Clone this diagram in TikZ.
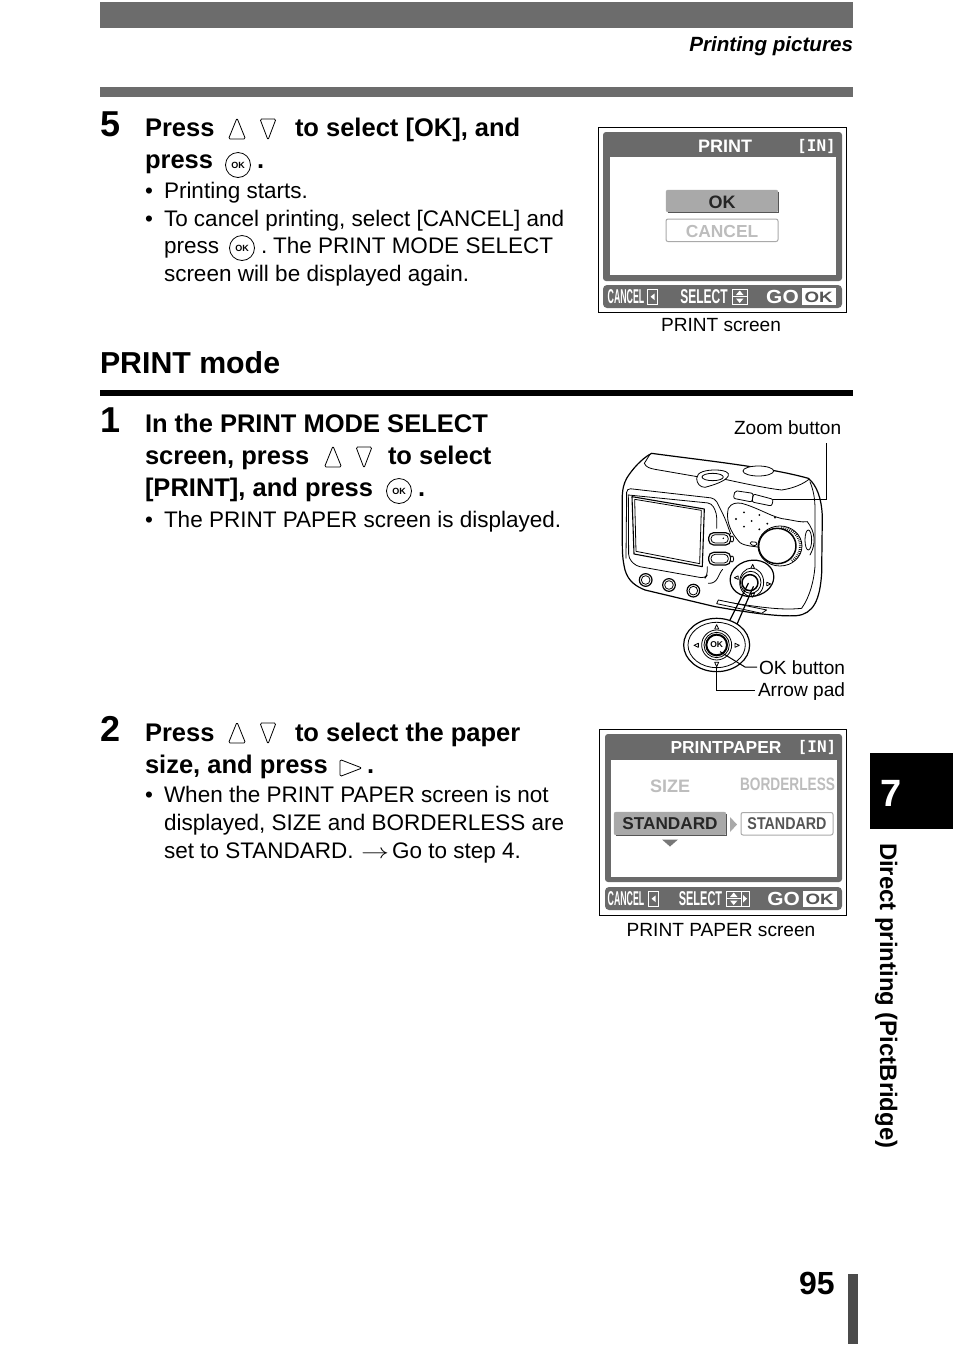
\documentclass[tikz,border=0pt]{standalone}
\usepackage{fontspec}
\usepackage{graphicx}
\setmainfont{Liberation Sans}
\newfontfamily\slabfont{DejaVu Sans Mono}
\usetikzlibrary{shapes.geometric,calc}
\definecolor{barGray}{HTML}{6C6C6C}
\definecolor{scrGray}{HTML}{6A6A6A}
\definecolor{btnGray}{HTML}{A9A9A9}
\definecolor{txtGray}{HTML}{BDBDBD}
\definecolor{midGray}{HTML}{555555}
\newcommand\nar[2]{\scalebox{#1}[1]{#2}}
\newcommand\fs[1]{\fontsize{#1}{#1}\selectfont}
\tikzset{
 x=1pt,y=-1pt,
 txt/.style={anchor=base west,inner sep=0pt,outer sep=0pt,text=black},
 bodytxt/.style={txt,font=\fs{22.5}},
 head/.style={txt,font=\fs{25.5}\bfseries},
 num/.style={txt,font=\fs{36}\bfseries},
 captxt/.style={txt,font=\fs{19.1}},
 capc/.style={captxt,anchor=base},
 scr/.style={txt,anchor=base,font=\fs{18}\bfseries,text=white},
 btnline/.style={draw=black,line width=0.8pt,line join=round,fill=white},
 cam/.style={draw=black,line width=0.8pt,line join=round,line cap=round},
 camheavy/.style={cam,line width=1.2pt},
 leader/.style={draw=black,line width=1pt},
 upbtn/.pic={\draw[btnline,rounded corners=1.5pt] (0,-11)--(8.5,10)--(-8.5,10)--cycle;},
 downbtn/.pic={\draw[btnline,rounded corners=1.5pt] (0,11)--(8,-10)--(-8,-10)--cycle;},
 rightbtn/.pic={\draw[btnline,rounded corners=1.5pt] (11,0)--(-11,8.5)--(-11,-8.5)--cycle;},
 okbtn/.pic={\draw[btnline] (0,0) circle[radius=12.5];
   \node[inner sep=0pt,font=\fs{9}\bfseries] {OK};},
}
\begin{document}
\begin{tikzpicture}
\useasboundingbox (0,0) rectangle (954,1345);
\fill[white] (0,0) rectangle (954,1345);
% page furniture
\fill[barGray] (100,2) rectangle (853,28);
\fill[barGray] (100,87) rectangle (853,97);
\fill[black] (100,390) rectangle (853,396);
\fill[black] (870,753) rectangle (953,829);
\fill[barGray!70!black] (848,1274) rectangle (858,1344);
\node[txt,anchor=base east,font=\fs{20.6}\bfseries\itshape] (running) at (853,51) {Printing pictures};
\node[txt,font=\fs{38}\bfseries,text=white] (chapter) at (880,806) {7};
\node[txt,rotate=-90,font=\fs{23.9}\bfseries] (side) at (880,843) {Direct printing (PictBridge)};
\node[txt,font=\fs{32}\bfseries] (page) at (799,1294) {95};
% step 5
\node[num] (s5) at (100,136) {5};
\node[head] (s5a) at (145,136) {Press};
\pic at (237,129) {upbtn};
\pic at (268,129) {downbtn};
\node[head] (s5b) at (295,136) {to select [OK], and};
\node[head] (s5c) at (145,168) {press};
\pic at (238,165) {okbtn};
\node[head] (s5d) at (257,168) {.};
\node[bodytxt] (b1) at (145,198) {•};
\node[bodytxt] (b1t) at (164,198) {Printing starts.};
\node[bodytxt] (b2) at (145,226) {•};
\node[bodytxt] (b2t) at (164,226) {To cancel printing, select [CANCEL] and};
\node[bodytxt] (b2u) at (164,253) {press};
\pic at (242,248) {okbtn};
\node[bodytxt] (b2v) at (261,253) {.};
\node[bodytxt] (b2x) at (273,253) {The PRINT MODE SELECT};
\node[bodytxt] (b2w) at (164,281) {screen will be displayed again.};
% heading
\node[txt,font=\fs{30.3}\bfseries] (pm) at (100,373) {PRINT mode};
% step 1
\node[num] (s1) at (100,432) {1};
\node[head] (s1a) at (145,432) {In the PRINT MODE SELECT};
\node[head] (s1b) at (145,464) {screen, press};
\pic at (333,457) {upbtn};
\pic at (364,457) {downbtn};
\node[head] (s1c) at (388,464) {to select};
\node[head] (s1d) at (145,496) {[PRINT], and press};
\pic at (399,491) {okbtn};
\node[head] (s1e) at (418,496) {.};
\node[bodytxt] (c1) at (145,527) {•};
\node[bodytxt] (c1t) at (164,527) {The PRINT PAPER screen is displayed.};
% step 2
\node[num] (s2) at (100,741) {2};
\node[head] (s2a) at (145,741) {Press};
\pic at (237,733) {upbtn};
\pic at (268,733) {downbtn};
\node[head] (s2b) at (295,741) {to select the paper};
\node[head] (s2c) at (145,773) {size, and press};
\pic at (351,768) {rightbtn};
\node[head] (s2d) at (367,773) {.};
\node[bodytxt] (d1) at (145,802) {•};
\node[bodytxt] (d1t) at (164,802) {When the PRINT PAPER screen is not};
\node[bodytxt] (d1u) at (164,830) {displayed, SIZE and BORDERLESS are};
\node[bodytxt] (d1v) at (164,858) {set to STANDARD.};
\node[bodytxt] (d1a) at (361,858) {\nar{1.35}{$\rightarrow$}};
\node[bodytxt] (d1w) at (392,858) {Go to step 4.};
% PRINT screen
\draw[black,line width=0.8pt] (598.5,127.5) rectangle (846,312.5);
\fill[scrGray,rounded corners=3pt] (603,132) rectangle (842,281);
\fill[white] (610,157) rectangle (836,275);
\fill[scrGray,rounded corners=4pt] (603,285) rectangle (842,308);
\node[scr] (p1) at (725,152) {PRINT};
\node[scr,font=\fs{16}\bfseries\slabfont] (p2) at (816.5,151) {[IN]};
\draw[fill=btnGray,draw=btnGray,rounded corners=2pt] (666,190) rectangle (778,212);
\draw[midGray,line width=0.7pt] (778,192) -- (778,212) -- (668,212);
\node[scr,text=black!85] (p3) at (722,208) {OK};
\draw[draw=btnGray,line width=1pt,fill=white,rounded corners=2pt] (666,219) rectangle (778,241.5);
\node[scr,text=txtGray,font=\fs{17.4}\bfseries] (p4) at (722,237) {CANCEL};
\node[scr,font=\fs{20}\bfseries] (p5) at (626,303.5) {\nar{0.44}{CANCEL}};
\draw[white,line width=0.8pt] (647.5,289) rectangle (657.5,304.5);
\fill[white] (654.5,293.5) -- (654.5,300) -- (650.5,296.7) -- cycle;
\node[scr,font=\fs{20}\bfseries] (p6) at (704,303.5) {\nar{0.6}{SELECT}};
\draw[white,line width=0.8pt] (732.5,289) rectangle (747,304.5);
\draw[white,line width=0.8pt] (732.5,296.7) -- (747,296.7);
\fill[white] (739.7,290.5) -- (736,295) -- (743.5,295) -- cycle;
\fill[white] (739.7,303) -- (736,298.5) -- (743.5,298.5) -- cycle;
\node[scr,font=\fs{19}\bfseries] (p7) at (782.5,303.5) {\nar{1.1}{GO}};
\draw[white,fill=white] (802.5,288.5) rectangle (835,304);
\node[scr,text=midGray,font=\fs{15}\bfseries] (p8) at (818.7,302) {\nar{1.25}{OK}};
\node[capc] (p9) at (721,331) {PRINT screen};
% camera
\begin{scope}[shift={(600,410)},x=0.3333pt,y=-0.3333pt]
% body
\draw[camheavy,fill=white] (155,130) .. controls (300,150) and (500,170) .. (625,205)
  .. controls (650,225) and (665,265) .. (667,320) -- (665,490)
  .. controls (660,570) and (640,612) .. (590,617)
  .. controls (540,620) and (470,612) .. (345,590)
  -- (135,540) .. controls (110,530) and (85,515) .. (75,480)
  .. controls (68,450) and (67,430) .. (67,400) -- (67,255)
  .. controls (68,235) and (72,220) .. (80,205) .. controls (95,180) and (125,145) .. (155,130) -- cycle;
\draw[camheavy] (67,350) -- (67,405);
\draw[cam] (150,133) -- (133,160) .. controls (138,172) and (150,175) .. (165,178) -- (292,200);
\draw[cam] (375,208) .. controls (430,220) and (500,235) .. (545,240) .. controls (580,235) and (610,222) .. (628,207);
\draw[cam] (630,215) .. controls (640,240) and (645,265) .. (645,295) -- (645,470) .. controls (642,510) and (630,560) .. (605,595) .. controls (540,602) and (470,590) .. (358,573);
% tab
\draw[cam,fill=white] (355,570) -- (350,581) -- (485,610) -- (500,600) -- cycle;
% eyepiece and top dial
\draw[cam,fill=white] (290,205) .. controls (290,185) and (320,180) .. (345,180) .. controls (375,180) and (390,188) .. (385,198) .. controls (375,215) and (340,225) .. (315,232) .. controls (300,232) and (290,220) .. (290,205) -- cycle;
\draw[cam] (338,201) ellipse [x radius=32,y radius=11];
\draw[cam,fill=white] (475,183) ellipse [x radius=46,y radius=15];
% LCD panel
\draw[cam,rounded corners=4pt] (78,445) -- (80,235) -- (345,265) -- (375,325) -- (392,372);
\draw[cam,rounded corners=4pt] (85,255) -- (335,280) -- (350,310) -- (350,355);
\draw[cam,rounded corners=4pt] (85,255) -- (86,445) -- (108,468) -- (315,505) -- (322,495) -- (322,470);
\draw[cam,line width=1.1pt,fill=white] (96,260) -- (313,297) -- (307,470) -- (102,432) -- cycle;
\draw[cam] (104,268) -- (304,301) -- (299,461) -- (108,424) -- cycle;
\draw[cam] (325,520) .. controls (355,522) and (355,490) .. (368,478);
% small buttons
\draw[camheavy,fill=white,rounded corners=5pt] (326,368) rectangle (392,405);
\draw[cam,fill=white,rounded corners=4pt] (333,374) rectangle (385,399);
\draw[camheavy,fill=white,rounded corners=5pt] (326,427) rectangle (392,465);
\draw[cam,fill=white,rounded corners=4pt] (333,433) rectangle (385,459);
\draw[cam,fill=white] (396,387) ellipse [x radius=5,y radius=9];
\draw[cam,fill=white] (396,447) ellipse [x radius=5,y radius=9];
\fill (370,385) circle[radius=2.5];
% round buttons
\foreach \cx/\cy in {137/510,207/525,280/542}{
 \draw[camheavy] (\cx,\cy) circle[radius=19];
 \draw[cam] (\cx,\cy) circle[radius=13];}
% zoom buttons
\draw[cam,rounded corners=2pt] (405,242) -- (460,250) -- (456,276) -- (400,265) -- cycle;
\draw[cam,rounded corners=2pt] (460,252) -- (520,268) -- (515,288) -- (456,276) -- cycle;
% speaker panel
\draw[cam,fill=white] (385,295) .. controls (395,278) and (410,278) .. (425,280)
 .. controls (480,295) and (520,325) .. (560,328) .. controls (585,332) and (605,338) .. (622,335);
\draw[cam] (385,295) .. controls (378,325) and (385,360) .. (420,398) .. controls (440,410) and (460,408) .. (478,412);
\foreach \dx/\dy in {432/307,478/315,525/323,408/327,455/333,502/341,432/350,478/358}{\fill (\dx,\dy) circle[radius=3.2];}
\draw[cam,rounded corners=1.5pt] (450,395) -- (472,397) -- (470,407) -- (452,405) -- cycle;
% side detail
\draw[cam] (622,335) .. controls (645,365) and (650,400) .. (630,435);
\draw[cam] (625,390) ellipse [x radius=10,y radius=30];
% big dial
\draw[cam,fill=white] (540,408) ellipse [x radius=66,y radius=60];
\foreach \a in {-85,-79,...,55}{\draw[black,line width=0.7pt] ($(540,408)+(\a:57 and 52)$) -- ($(540,408)+(\a:66 and 60)$);}
\draw[camheavy,line width=1.5pt,fill=white] (532,408) ellipse [x radius=56,y radius=53];
% pad on camera
\draw[camheavy,fill=white,rotate around={12:(456,505)}] (456,505) ellipse [x radius=66,y radius=54];
\draw[cam] (455,517) ellipse [x radius=36,y radius=43];
\draw[cam] (452,517) ellipse [x radius=31,y radius=33];
\draw[camheavy,line width=1.5pt,fill=white] (450,518) circle[radius=24];
\foreach \px/\py/\pa in {458/470/-90,505/522/0,458/555/90,410/503/180}{
 \draw[cam,fill=white] ($(\px,\py)+(\pa:7)$) -- ($(\px,\py)+(\pa+130:7)$) -- ($(\px,\py)+(\pa-130:7)$) -- cycle;}
% link to large pad
\draw[camheavy] (445,520) -- (390,630);
\draw[camheavy] (460,530) -- (410,645);
% large pad
\draw[camheavy,fill=white] (350,705) ellipse [x radius=99,y radius=80];
\draw[cam] (350,705) ellipse [x radius=86,y radius=68];
\draw[cam] (350,705) circle[radius=45];
\draw[cam] (350,705) circle[radius=38];
\draw[black,line width=2pt] (350,705) circle[radius=31];
\node[inner sep=0pt,font=\fs{8.5}\bfseries] (padok) at (350,705) {OK};
\foreach \px/\py/\pa in {350/652/-90,350/762/90,290/706/180,410/706/0}{
 \draw[cam,fill=white] ($(\px,\py)+(\pa:8)$) -- ($(\px,\py)+(\pa+130:8)$) -- ($(\px,\py)+(\pa-130:8)$) -- cycle;}
\coordinate (zoomEnd) at (520,268);
\coordinate (okEnd) at (360,725);
\coordinate (padEnd) at (350,770);
\end{scope}
% labels and leaders
\node[captxt] (zl) at (734,434) {Zoom button};
\node[captxt] (okl) at (759,674) {OK button};
\node[captxt] (apl) at (758,696) {Arrow pad};
\coordinate (zoomTop) at (826,443);
\draw[leader] (zoomTop) |- (zoomEnd);
\coordinate (okMid) at (745,667);
\coordinate (okStub) at (757,667);
\draw[leader] (okEnd) -- (okMid) -- (okStub);
\coordinate (padStub) at (755,690);
\draw[leader] (padEnd) |- (padStub);
% PRINT PAPER screen
\draw[black,line width=0.8pt] (599.5,729.5) rectangle (846.5,915);
\fill[scrGray,rounded corners=3pt] (605,734) rectangle (842,882);
\fill[white] (611,760) rectangle (837,877);
\fill[scrGray,rounded corners=4pt] (605,887) rectangle (842,910);
\node[scr,font=\fs{17.4}\bfseries] (q1) at (726,753) {PRINTPAPER};
\node[scr,font=\fs{16}\bfseries\slabfont] (q2) at (817,752) {[IN]};
\node[scr,text=txtGray] (q3) at (670,792) {SIZE};
\node[scr,text=txtGray] (q4) at (787.5,790) {\nar{0.76}{BORDERLESS}};
\draw[fill=btnGray,draw=btnGray,rounded corners=2pt] (614,812) rectangle (726,835);
\draw[midGray,line width=0.7pt] (726,814) -- (726,835) -- (616,835);
\node[scr,text=black!85,font=\fs{17.2}\bfseries] (q5) at (670,829) {STANDARD};
\fill[btnGray] (730,817) -- (737,824.5) -- (730,832) -- cycle;
\draw[draw=btnGray,line width=1pt,fill=white,rounded corners=2pt] (741,812.5) rectangle (833,835);
\node[scr,text=midGray,font=\fs{17}\bfseries] (q6) at (787,829) {\nar{0.84}{STANDARD}};
\fill[midGray!80] (662,839.5) -- (678,839.5) -- (670,846.5) -- cycle;
\node[scr,font=\fs{20}\bfseries] (q7) at (626,905.5) {\nar{0.44}{CANCEL}};
\draw[white,line width=0.8pt] (648.5,891) rectangle (658,906.5);
\fill[white] (655.5,895.5) -- (655.5,902) -- (651.5,898.7) -- cycle;
\node[scr,font=\fs{20}\bfseries] (q8) at (700.5,905.5) {\nar{0.55}{SELECT}};
\draw[white,line width=0.8pt] (726.5,891) rectangle (749,906.5);
\draw[white,line width=0.8pt] (741,891) -- (741,906.5);
\draw[white,line width=0.8pt] (726.5,898.7) -- (741,898.7);
\fill[white] (733.7,892.5) -- (730,897) -- (737.5,897) -- cycle;
\fill[white] (733.7,905) -- (730,900.5) -- (737.5,900.5) -- cycle;
\fill[white] (743,895) -- (743,902.5) -- (747,898.7) -- cycle;
\node[scr,font=\fs{19}\bfseries] (q9) at (783.5,905.5) {\nar{1.1}{GO}};
\draw[white,fill=white] (803.5,891) rectangle (836,906);
\node[scr,text=midGray,font=\fs{15}\bfseries] (q10) at (819.7,904.5) {\nar{1.25}{OK}};
\node[capc] (q11) at (721,936) {PRINT PAPER screen};
\end{tikzpicture}
\end{document}
